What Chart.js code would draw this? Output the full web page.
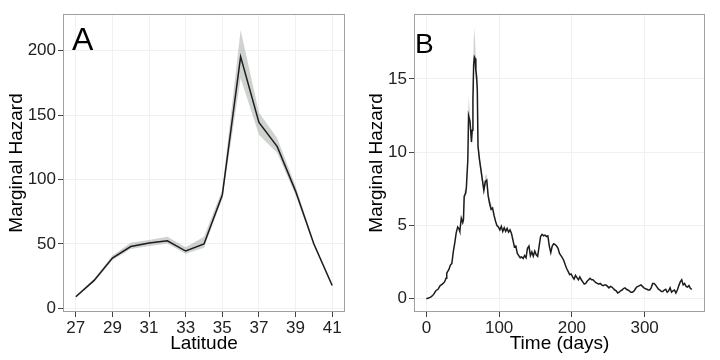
<!DOCTYPE html>
<html>
<head>
<meta charset="utf-8">
<script src="https://cdn.jsdelivr.net/npm/chart.js@4.4.1/dist/chart.umd.min.js"></script>
<style>
  body { margin: 0; background: #fff; }
  #wrap { display: flex; width: 720px; height: 360px; }
  canvas { display: block; }
</style>
</head>
<body>
<div id="wrap">
  <canvas id="chartA" width="360" height="360"></canvas>
  <canvas id="chartB" width="360" height="360"></canvas>
</div>
<script>
// Panel A: hazard by latitude, with ribbon bounds
const latitude = [27, 28, 29, 30, 31, 32, 33, 34, 35, 36, 37, 38, 39, 40, 41];
const hazardLat = [9, 21.7, 39, 48, 50.8, 52.5, 44.5, 50, 88, 195.3, 144.2, 125.5, 91, 50, 17.8];
const hazardLatHi = [10, 23, 41, 51, 53, 55.5, 47.5, 55.5, 92, 216, 152, 132, 95, 51.5, 18.5];
const hazardLatLo = [8.5, 20.5, 37.5, 46, 48.5, 50.3, 42.3, 47, 85, 178.6, 134.7, 120.5, 88, 49, 17];
const latTicks = [27, 29, 31, 33, 35, 37, 39, 41];
const latHazTicks = [0, 50, 100, 150, 200];

// Panel B: hazard by time (days)
const days = [0, 3, 7, 10, 13, 16, 19, 22, 25, 27, 28, 31, 33, 35, 37, 39, 41, 43, 45, 46, 48, 50, 51, 52, 54, 55, 57, 58, 60, 62, 63, 64, 65, 66, 67, 68, 69, 70, 71, 73, 75, 77, 79, 81, 83, 85, 87, 89, 91, 93, 95, 97, 99,
  101, 103, 105, 107, 109, 111, 113, 115, 117, 119, 121, 123, 125, 127, 129, 131, 133, 135, 137, 139, 141, 143, 145, 147, 149, 151, 153, 155, 157, 159, 161, 163, 165, 167, 169, 171, 173, 175, 177, 179, 181, 183, 185, 187, 189, 191, 193, 195, 197, 199,
  201, 203, 205, 207, 209, 211, 213, 215, 217, 219, 221, 223, 225, 227, 229, 231, 233, 235, 237, 239, 241, 243, 245, 247, 249, 251, 253, 255, 257, 259, 261, 263, 265, 267, 269, 271, 273, 275, 277, 279, 281, 283, 285, 287, 289, 291, 293, 295, 297, 299,
  301, 303, 305, 307, 309, 311, 313, 315, 317, 319, 321, 323, 325, 327, 329, 331, 333, 335, 337, 339, 341, 343, 345, 347, 349, 351, 353, 355, 357, 359, 361, 363, 365];
const hazardDay = [0, 0.05, 0.15, 0.3, 0.55, 0.65, 0.9, 1.0, 1.15, 1.4, 1.75, 2.0, 2.3, 2.4, 3.2, 3.8, 4.5, 4.9, 4.75, 4.6, 5.5, 5.2, 5.4, 7.0, 7.2, 7.6, 9.5, 12.5, 12.1, 10.7, 11.5, 13.6, 16.0, 16.5, 16.4, 15.6, 15.2, 14.3, 10.4, 9.5, 8.8, 8.1, 7.4, 8.0, 8.1, 7.0, 6.5, 6.1, 6.2, 5.7, 5.3, 5.0, 4.9,
  4.7, 4.95, 4.6, 4.85, 4.6, 4.8, 4.55, 4.7, 4.45, 4.0, 3.55, 3.6, 3.1, 2.95, 2.8, 2.85, 2.75, 2.95, 2.8, 3.45, 3.6, 2.95, 3.2, 2.9, 3.25, 3.0, 2.9, 3.6, 4.25, 4.4, 4.3, 4.35, 4.25, 4.3, 3.6, 3.15, 3.6, 3.75, 3.7, 3.6, 3.45, 3.1, 2.95, 2.8, 2.6, 2.3, 2.05, 1.85, 1.65, 1.7,
  1.5, 1.35, 1.6, 1.45, 1.3, 1.5, 1.3, 1.15, 1.0, 1.05, 1.2, 1.3, 1.4, 1.3, 1.3, 1.2, 1.1, 1.05, 1.0, 1.05, 0.95, 0.9, 0.95, 0.95, 0.85, 0.75, 0.85, 0.8, 0.7, 0.6, 0.55, 0.4, 0.45, 0.55, 0.6, 0.7, 0.75, 0.65, 0.6, 0.55, 0.45, 0.45, 0.5, 0.65, 0.8, 0.85, 0.9, 0.95, 0.85, 0.75,
  0.7, 0.65, 0.6, 0.6, 0.75, 1.05, 1.05, 0.95, 0.8, 0.65, 0.6, 0.5, 0.5, 0.6, 0.65, 0.45, 0.55, 0.75, 0.45, 0.55, 0.6, 0.4, 0.6, 0.9, 1.15, 1.3, 0.95, 1.05, 0.85, 0.8, 0.9, 0.7, 0.65];
// ribbon around the peak, where it shows
const bandDays = [48, 50, 52, 54, 55, 57, 58, 59, 60, 62, 63, 64, 65, 66, 67, 68, 69, 70, 71, 73, 75, 77, 79, 81, 83, 85, 87, 90];
const bandHi = [5.7, 5.4, 7.3, 7.5, 7.9, 9.9, 13.8, 13.3, 12.5, 11.1, 12.0, 14.3, 17.5, 18.5, 17.6, 16.4, 15.9, 15.0, 11.0, 9.9, 9.2, 8.5, 7.8, 8.4, 8.5, 7.3, 6.8, 6.4];
const bandLo = [5.3, 5.0, 6.8, 7.0, 7.3, 9.2, 12.0, 12.0, 11.7, 10.4, 11.1, 13.0, 15.3, 15.8, 15.8, 15.0, 14.7, 13.7, 9.9, 9.2, 8.5, 7.8, 7.1, 7.7, 7.8, 6.7, 6.2, 5.9];
const dayTicks = [0, 100, 200, 300];
const dayHazTicks = [0, 5, 10, 15];

Chart.defaults.font.family = '"Liberation Sans", Arial, sans-serif';

const toPts = (xs, ys) => xs.map((x, i) => ({ x: x, y: ys[i] }));

// grey box around the plot area and the big panel letter
const panelDecor = {
  id: 'panelDecor',
  afterDatasetsDraw(chart, args, opts) {
    const { ctx, chartArea: a } = chart;
    ctx.save();
    ctx.strokeStyle = '#a0a0a0';
    ctx.lineWidth = 1;
    ctx.strokeRect(a.left + 0.5, a.top + 0.5, a.right - a.left - 1, a.bottom - a.top - 1);
    ctx.fillStyle = '#000';
    ctx.font = opts.size + 'px "Liberation Sans", Arial, sans-serif';
    ctx.textBaseline = 'alphabetic';
    ctx.fillText(opts.letter, opts.x, opts.y);
    ctx.restore();
  }
};

function panelChart(id, p) {
  return new Chart(document.getElementById(id).getContext('2d'), {
    type: 'line',
    data: {
      datasets: [
        { data: p.line, borderColor: '#1c1c1c', borderWidth: 1.5, pointRadius: 0, fill: false, tension: 0 },
        { data: p.hi, borderColor: 'transparent', borderWidth: 0, pointRadius: 0, backgroundColor: 'rgba(160,168,160,0.5)', fill: '+1' },
        { data: p.lo, borderColor: 'transparent', borderWidth: 0, pointRadius: 0, fill: false }
      ]
    },
    options: {
      responsive: false,
      animation: false,
      devicePixelRatio: 1,
      layout: { padding: { top: 14, right: 15, left: 0, bottom: 0 } },
      plugins: {
        legend: { display: false },
        tooltip: { enabled: false },
        panelDecor: p.letter
      },
      scales: {
        x: {
          type: 'linear', min: p.xMin, max: p.xMax,
          afterBuildTicks: s => { s.ticks = p.xTicks.map(v => ({ value: v })); },
          afterFit: s => { s.height = 48; },
          border: { display: false },
          grid: { color: '#f1f1f1', tickColor: '#444', tickLength: 5 },
          ticks: { color: '#222', font: { size: 17 }, padding: 1, maxRotation: 0, autoSkip: false },
          title: { display: true, text: p.xTitle, color: '#000', font: { size: 19 }, padding: { top: 0, bottom: 5 } }
        },
        y: {
          min: p.yMin, max: p.yMax,
          afterBuildTicks: s => { s.ticks = p.yTicks.map(v => ({ value: v })); },
          afterFit: s => { s.width = p.yWidth; },
          border: { display: false },
          grid: { color: '#f1f1f1', tickColor: '#444', tickLength: 5 },
          ticks: { color: '#222', font: { size: 17 }, padding: 2, autoSkip: false },
          title: { display: true, text: 'Marginal Hazard', color: '#000', font: { size: 19 }, padding: { top: 5, bottom: 0 } }
        }
      }
    },
    plugins: [panelDecor]
  });
}

panelChart('chartA', {
  line: toPts(latitude, hazardLat),
  hi: toPts(latitude, hazardLatHi),
  lo: toPts(latitude, hazardLatLo),
  xMin: 26.3, xMax: 41.7, xTicks: latTicks, xTitle: 'Latitude',
  yMin: -2.8, yMax: 228.4, yTicks: latHazTicks, yWidth: 63,
  letter: { letter: 'A', size: 32, x: 72, y: 50 }
});

panelChart('chartB', {
  line: toPts(days, hazardDay),
  hi: toPts(bandDays, bandHi),
  lo: toPts(bandDays, bandLo),
  xMin: -17, xMax: 383, xTicks: dayTicks, xTitle: 'Time (days)',
  yMin: -0.9, yMax: 19.43, yTicks: dayHazTicks, yWidth: 54,
  letter: { letter: 'B', size: 28, x: 55, y: 53 }
});
</script>
</body>
</html>
